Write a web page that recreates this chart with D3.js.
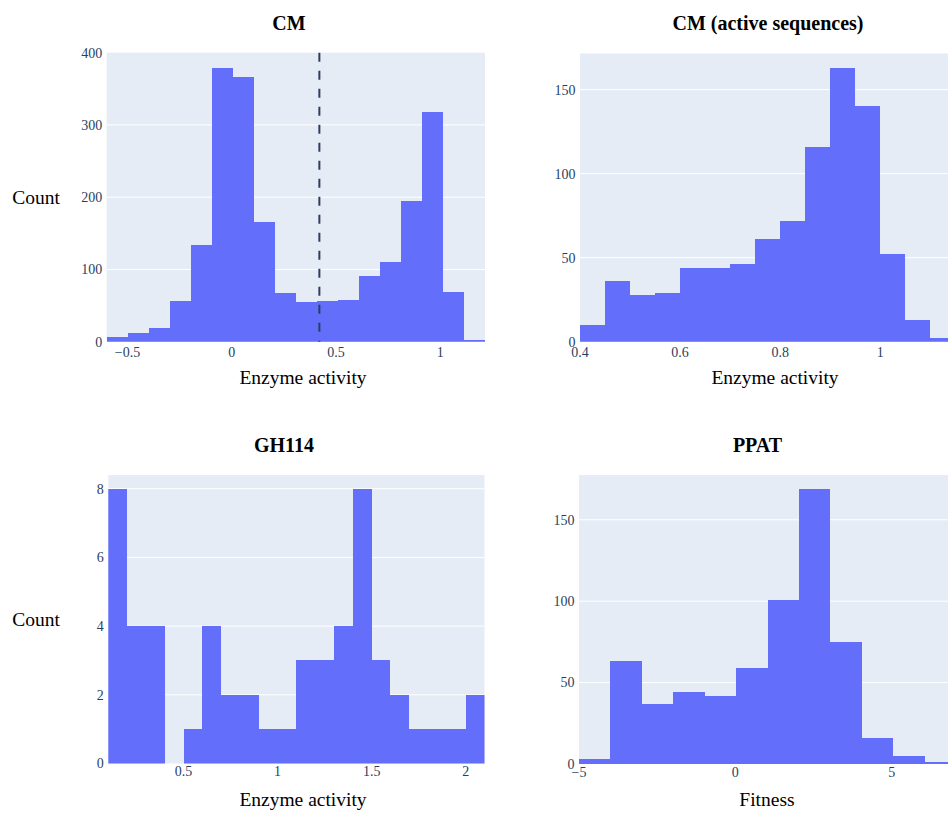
<!DOCTYPE html>
<html>
<head>
<meta charset="utf-8">
<script src="https://cdn.jsdelivr.net/npm/d3@7"></script>
<style>
  html, body { margin: 0; padding: 0; background: #fff; }
  svg { display: block; }
  text { font-family: "Liberation Serif", "Times New Roman", serif; }
</style>
</head>
<body>
<svg id="chart" width="948" height="813"></svg>
<script>
// ---------- DATA ----------
// CM (all sequences): histogram counts, bins start at -0.6
const cmBinStart = -0.6;
const cmBinSize = 0.1008;
const cmCounts = [6, 12, 19, 57, 134, 379, 367, 166, 68, 55, 56, 58, 91, 111, 195, 318, 69, 2];
const cmThreshold = 0.42;
const cmXTicks = [-0.5, 0, 0.5, 1];
const cmYTicks = [0, 100, 200, 300, 400];

// CM (active sequences)
const cmaBinStart = 0.4;
const cmaBinSize = 0.05;
const cmaCounts = [10, 36, 28, 29, 44, 44, 46, 61, 72, 116, 163, 140, 52, 13, 2];
const cmaXTicks = [0.4, 0.6, 0.8, 1];
const cmaYTicks = [0, 50, 100, 150];

// GH114
const ghBinStart = 0.1;
const ghBinSize = 0.1;
const ghCounts = [8, 4, 4, 0, 1, 4, 2, 2, 1, 1, 3, 3, 4, 8, 3, 2, 1, 1, 1, 2];
const ghXTicks = [0.5, 1, 1.5, 2];
const ghYTicks = [0, 2, 4, 6, 8];

// PPAT
const ppBinStart = -5;
const ppBinSize = 1.005;
const ppCounts = [3, 63, 37, 44, 42, 59, 101, 169, 75, 16, 5, 1];
const ppXTicks = [-5, 0, 5];
const ppYTicks = [0, 50, 100, 150];

// ---------- LAYOUT ----------
const BAR = "#636efa";
const BG = "#e5ecf6";
const TICK = "#2a3f5f";

const panels = [
  { title: "CM", titleX: 289, titleY: 30, xlabel: "Enzyme activity", xlabelX: 303, xlabelY: 383.5,
    ylabel: "Count", x0: 106.7, x1: 485, y0: 52.7, y1: 341.7, tickBase: 356.7,
    xdom: [-0.6, -0.6 + 18 * 0.1008], ydom: [0, 400],
    start: cmBinStart, size: cmBinSize, counts: cmCounts, xticks: cmXTicks, yticks: cmYTicks, vline: cmThreshold },
  { title: "CM (active sequences)", titleX: 768, titleY: 30, xlabel: "Enzyme activity", xlabelX: 775, xlabelY: 383.5,
    ylabel: null, x0: 580, x1: 948, y0: 53.5, y1: 341.7, tickBase: 356.7,
    xdom: [0.4, 1.1354], ydom: [0, 171.5],
    start: cmaBinStart, size: cmaBinSize, counts: cmaCounts, xticks: cmaXTicks, yticks: cmaYTicks },
  { title: "GH114", titleX: 284, titleY: 451.7, xlabel: "Enzyme activity", xlabelX: 303, xlabelY: 806,
    ylabel: "Count", x0: 108.3, x1: 484.5, y0: 475, y1: 763.5, tickBase: 775.5,
    xdom: [0.1, 2.1], ydom: [0, 8.4],
    start: ghBinStart, size: ghBinSize, counts: ghCounts, xticks: ghXTicks, yticks: ghYTicks },
  { title: "PPAT", titleX: 757.5, titleY: 451.7, xlabel: "Fitness", xlabelX: 767, xlabelY: 806,
    ylabel: null, x0: 579, x1: 948, y0: 475, y1: 764, tickBase: 777,
    xdom: [-5, 6.8], ydom: [0, 177.5],
    start: ppBinStart, size: ppBinSize, counts: ppCounts, xticks: ppXTicks, yticks: ppYTicks }
];

const svg = d3.select("#chart");
const fmt = v => (v < 0 ? "\u2212" + Math.abs(v) : String(v));

panels.forEach((p, i) => {
  const x = d3.scaleLinear().domain(p.xdom).range([p.x0, p.x1]);
  const y = d3.scaleLinear().domain(p.ydom).range([p.y1, p.y0]);
  const g = svg.append("g");
  const clipId = "clip" + i;
  svg.append("clipPath").attr("id", clipId).append("rect")
    .attr("x", p.x0).attr("y", p.y0).attr("width", p.x1 - p.x0).attr("height", p.y1 - p.y0);

  // background
  g.append("rect").attr("x", p.x0).attr("y", p.y0)
    .attr("width", p.x1 - p.x0).attr("height", p.y1 - p.y0).attr("fill", BG);

  // horizontal gridlines
  g.selectAll(".grid").data(p.yticks.filter(t => t > 0 && t < p.ydom[1])).enter()
    .append("line").attr("x1", p.x0).attr("x2", p.x1)
    .attr("y1", d => y(d)).attr("y2", d => y(d))
    .attr("stroke", "#fff").attr("stroke-width", 1);

  // bars
  const bins = p.counts.map((c, k) => ({ a: p.start + k * p.size, b: p.start + (k + 1) * p.size, c }));
  g.append("g").attr("clip-path", `url(#${clipId})`)
    .selectAll("rect").data(bins.filter(d => d.c > 0)).enter()
    .append("rect")
    .attr("x", d => x(d.a))
    .attr("width", d => Math.max(0, x(Math.min(d.b, p.xdom[1])) - x(d.a)))
    .attr("y", d => y(d.c))
    .attr("height", d => y(0) - y(d.c))
    .attr("fill", BAR)
    .attr("shape-rendering", "crispEdges");

  // threshold line
  if (p.vline !== undefined) {
    g.append("line")
      .attr("x1", x(p.vline)).attr("x2", x(p.vline))
      .attr("y1", y(p.ydom[1])).attr("y2", y(0))
      .attr("stroke", "#2a3f5f").attr("stroke-width", 2)
      .attr("stroke-dasharray", "9,9");
  }

  // y tick labels
  g.selectAll(".yt").data(p.yticks).enter().append("text")
    .attr("x", p.x0 - 4.5).attr("y", d => y(d)).attr("dy", "0.35em")
    .attr("text-anchor", "end").attr("font-size", 14).attr("fill", TICK)
    .text(fmt);

  // x tick labels
  g.selectAll(".xt").data(p.xticks).enter().append("text")
    .attr("x", d => x(d)).attr("y", p.tickBase)
    .attr("text-anchor", "middle").attr("font-size", 14).attr("fill", TICK)
    .text(fmt);

  // titles
  svg.append("text").attr("x", p.titleX).attr("y", p.titleY)
    .attr("text-anchor", "middle").attr("font-size", 20).attr("font-weight", "bold")
    .attr("fill", "#000").text(p.title);

  svg.append("text").attr("x", p.xlabelX).attr("y", p.xlabelY)
    .attr("text-anchor", "middle").attr("font-size", 19.5).attr("fill", "#000")
    .text(p.xlabel);

  if (p.ylabel) {
    svg.append("text").attr("x", 36).attr("y", (p.y0 + p.y1) / 2).attr("dy", "0.35em")
      .attr("text-anchor", "middle").attr("font-size", 19.5).attr("fill", "#000")
      .text(p.ylabel);
  }
});
</script>
</body>
</html>
